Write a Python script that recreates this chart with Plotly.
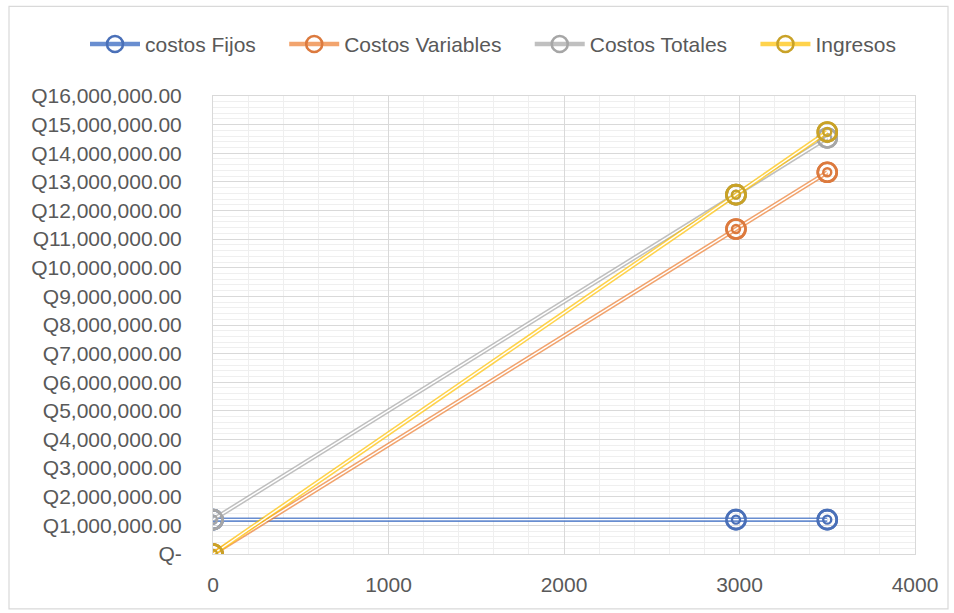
import plotly.graph_objects as go

# Unidades producidas / vendidas
x_unidades = [0, 2980, 3500]

# Valores en quetzales por serie
costos_fijos = [1200000, 1200000, 1200000]
costos_variables = [0, 11353800, 13335000]
costos_totales = [1200000, 12553800, 14535000]
ingresos = [0, 12553800, 14744500]

series_nombres = ["costos Fijos", "Costos Variables", "Costos Totales", "Ingresos"]
series_valores = [costos_fijos, costos_variables, costos_totales, ingresos]

# Eje Y: marcas cada millón hasta 16 millones
y_ticks = [i * 1000000 for i in range(17)]
y_ticktext = ["Q-" if v == 0 else "Q{:,.2f}".format(v) for v in y_ticks]
x_ticks = [0, 1000, 2000, 3000, 4000]

line_colors = ["rgba(68,114,196,0.80)", "rgba(237,125,49,0.70)",
               "rgba(165,165,165,0.70)", "rgba(255,192,0,0.70)"]
marker_colors = ["#4A70B8", "#DC7A3E", "#A6A6A6", "#C9A227"]

FONT = "Liberation Sans"
FS = 21
TXT = "#595959"
PAD = "\u00a0" * 4  # separación extra entre entradas de la leyenda

fig = go.Figure()

for i, (nombre, valores, lc, mc) in enumerate(zip(series_nombres, series_valores, line_colors, marker_colors)):
    etiqueta = nombre + (PAD if i < len(series_nombres) - 1 else "")
    # línea doble: trazo ancho de color con un trazo blanco fino encima
    fig.add_trace(go.Scatter(
        x=x_unidades, y=valores, mode="lines+markers", name=etiqueta,
        line=dict(color=lc, width=4.5),
        marker=dict(symbol="circle-open", size=19, color=mc, line=dict(width=2.6, color=mc)),
        legendgroup=nombre, showlegend=True, hoverinfo="skip",
    ))
    fig.add_trace(go.Scatter(
        x=x_unidades, y=valores, mode="lines",
        line=dict(color="white", width=1.4),
        legendgroup=nombre, showlegend=False, hoverinfo="skip",
    ))
    # marcador tipo diana: aro exterior y aro interior
    fig.add_trace(go.Scatter(
        x=x_unidades, y=valores, mode="markers",
        marker=dict(symbol="circle-open", size=19, color=mc, line=dict(width=2.6, color=mc)),
        legendgroup=nombre, showlegend=False, hoverinfo="skip",
    ))
    fig.add_trace(go.Scatter(
        x=x_unidades, y=valores, mode="markers",
        marker=dict(symbol="circle-open", size=8, color=mc, line=dict(width=2.4, color=mc)),
        legendgroup=nombre, showlegend=False, hoverinfo="skip",
    ))

L, R, T, B = 213, 915, 95.7, 554
W, H = 954, 613
pw, ph = R - L, B - T

fig.update_layout(
    width=W, height=H,
    margin=dict(l=L, r=W - R, t=T, b=H - B, pad=0),
    paper_bgcolor="white", plot_bgcolor="white",
    font=dict(family=FONT, size=FS, color=TXT),
    showlegend=True,
    legend=dict(
        orientation="h",
        x=(85 - L) / pw, xanchor="left",
        y=(B - 44) / ph, yanchor="middle",
        font=dict(family=FONT, size=FS, color=TXT),
        itemwidth=50, bgcolor="rgba(0,0,0,0)",
    ),
    xaxis=dict(
        range=[0, 4000], tickvals=x_ticks, ticktext=[str(v) for v in x_ticks],
        showgrid=True, gridcolor="#D9D9D9", gridwidth=1,
        minor=dict(dtick=200, showgrid=True, gridcolor="#EFEFEF", gridwidth=1),
        zeroline=False, showline=True, linecolor="#D9D9D9", linewidth=1, mirror=True,
        ticks="", ticklabelstandoff=12,
        tickfont=dict(family=FONT, size=FS, color=TXT),
    ),
    yaxis=dict(
        range=[0, 16000000], tickvals=y_ticks, ticktext=y_ticktext,
        showgrid=True, gridcolor="#D9D9D9", gridwidth=1,
        minor=dict(dtick=200000, showgrid=True, gridcolor="#EFEFEF", gridwidth=1),
        zeroline=False, showline=True, linecolor="#D9D9D9", linewidth=1, mirror=True,
        ticks="", ticklabelstandoff=26,
        tickfont=dict(family=FONT, size=FS, color=TXT),
    ),
    shapes=[dict(
        type="rect", xref="paper", yref="paper", layer="below",
        x0=(9 - L) / pw, x1=(948 - L) / pw,
        y0=(B - 609) / ph, y1=(B - 6) / ph,
        line=dict(color="#D9D9D9", width=1.2), fillcolor="rgba(0,0,0,0)",
    )],
)

fig.write_html("out.html")
